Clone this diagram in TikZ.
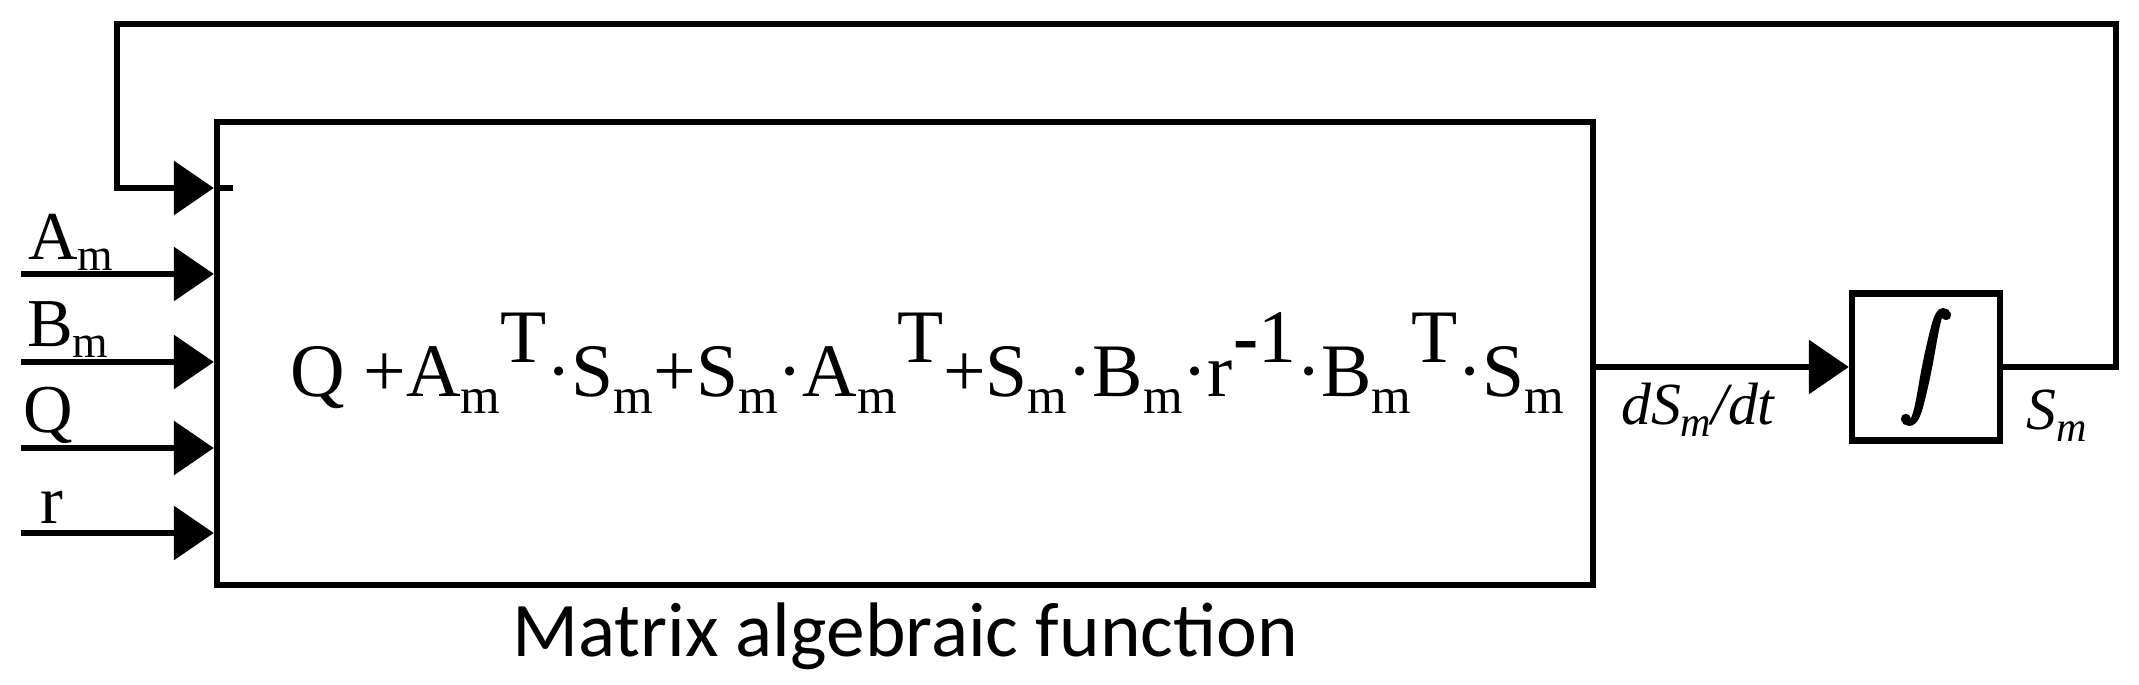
\documentclass[tikz,border=0pt]{standalone}
\usepackage{fontspec}
\setmainfont{Liberation Serif}
\newfontfamily\calfont{Carlito}
\usetikzlibrary{positioning,arrows.meta}
\newcommand{\lo}[1]{\raisebox{-0.22em}{\fontsize{14.5}{16}\selectfont #1}}
\newcommand{\hi}[1]{\raisebox{0.45em}{#1}}
\newcommand{\lbsub}[1]{\raisebox{-0.15em}{\fontsize{13}{15}\selectfont #1}}
\newcommand{\ilo}[1]{\raisebox{-0.2em}{\fontsize{12}{14}\selectfont #1}}
\newcommand{\heavy}[1]{\special{pdf:code q 2 Tr 0.9 w}#1\special{pdf:code Q}}

\begin{document}
\begin{tikzpicture}[line width=1.8pt,
  blk/.style={draw,rectangle,inner sep=0pt},
  sig/.style={-{Triangle[length=0.4cm,width=0.53cm]}},
  lbl/.style={inner sep=0pt,anchor=base west,font=\fontsize{19.5}{23}\selectfont}]
\useasboundingbox (0,0) rectangle (21.39,6.84);
\node[blk,minimum width=13.76cm,minimum height=4.63cm](mf)at(9.05,3.305){};
\node[blk,minimum width=1.48cm,minimum height=1.47cm,font=\normalsize](int)at(19.26,3.17){\heavy{\scalebox{1.45}{$\displaystyle\int$}}};
\node[lbl,font=\fontsize{21.5}{25}\selectfont](expr)at(2.87,2.87){Q +A\lo{m}\hi{T}·S\lo{m}+S\lo{m}·A\lo{m}\hi{T}+S\lo{m}·B\lo{m}·r\hi{\textbf{-}1}·B\lo{m}\hi{T}·S\lo{m}};
\node[below=0.68cm of mf.south,anchor=base,inner sep=0pt,font=\calfont\fontsize{22}{26}\selectfont](cap){Matrix algebraic function};
% inputs
\foreach \y/\n in {4.10/A,3.22/B,2.36/Q,1.51/R}{
  \coordinate(in\n)at(0.21,\y);
  \draw[sig](in\n)--(in\n-|mf.west);
}
\node[lbl](lA)at(0.25,4.24){A\lbsub{m}};
\node[lbl](lB)at(0.24,3.37){B\lbsub{m}};
\node[lbl](lQ)at(0.20,2.51){Q};
\node[lbl](lR)at(0.37,1.61){r};
% integrator and feedback
\draw[sig](mf.east|-int.west)--(int.west);
\coordinate(fb)at(2.33,4.96);
\draw[sig](int.east)-|(21.16,6.60)-|(1.17,4.96)--(mf.west|-fb);
\draw(mf.west|-fb)--(fb);
\node[lbl,font=\fontsize{17}{20}\selectfont\itshape](dlab)at(16.18,2.59){dS\ilo{m}/dt};
\node[lbl,font=\fontsize{17}{20}\selectfont\itshape](slab)at(20.23,2.54){S\ilo{m}};
\end{tikzpicture}
\end{document}
